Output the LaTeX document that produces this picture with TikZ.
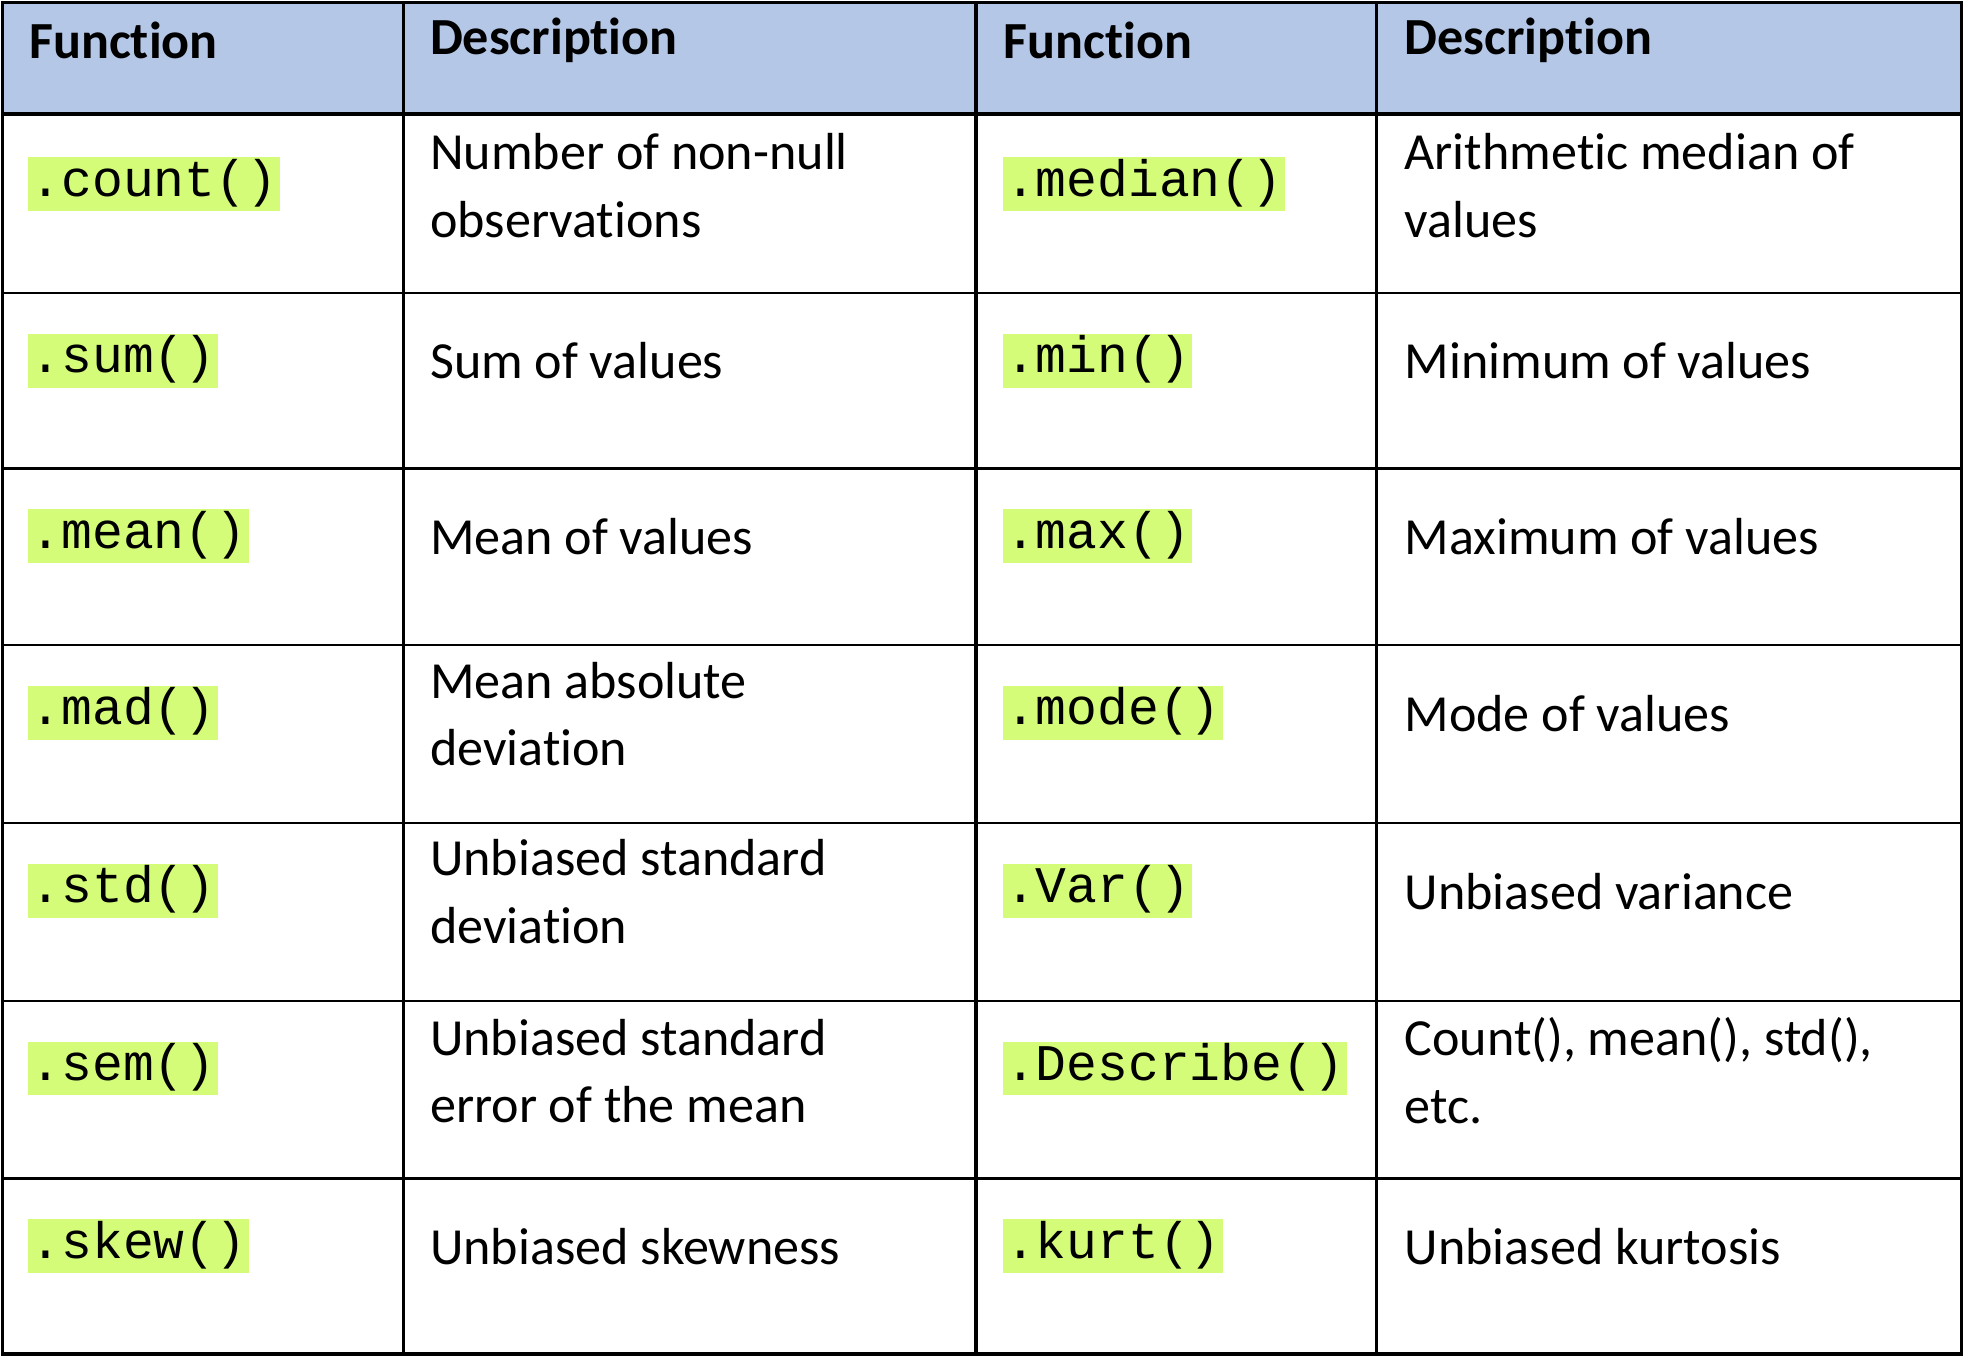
\documentclass[tikz,border=0pt]{standalone}
\usepackage{fontspec}
\setmainfont{Carlito}[Ligatures=NoCommon]
\newfontfamily\codefont{Liberation Mono}
\definecolor{hdr}{HTML}{B4C7E7}
\definecolor{hl}{HTML}{D4FC79}
\begin{document}
\begin{tikzpicture}[x=0.5pt,y=-0.5pt,
  code/.style={anchor=west,fill=hl,inner xsep=1pt,inner ysep=0pt,text height=15.5pt,text depth=6pt,font=\codefont\fontsize{20.5}{24}\selectfont},
  desc/.style={anchor=west,align=left,inner sep=0pt,font=\fontsize{20.8}{27}\selectfont},
  head/.style={anchor=west,inner sep=0pt,font=\bfseries\fontsize{20.8}{22}\selectfont}]
\useasboundingbox (0,0) rectangle (1568,1083);
\fill[hdr] (2,2) rectangle (1566,91);
\foreach \y in {234,374,515,657,799,941} \draw[line width=1pt] (2,\y) -- (1566,\y);
\foreach \x in {322,1099} \draw[line width=1pt] (\x,2) -- (\x,1081);
\draw[line width=1.5pt] (2,91) -- (1566,91);
\draw[line width=1.5pt] (779,2) -- (779,1081);
\draw[line width=1.5pt] (2,2) rectangle (1566,1081);
\node[head] (h1) at (23,32) {Function};
\node[head] (h2) at (343,32) {Description};
\node[head] (h3) at (801,32) {Function};
\node[head] (h4) at (1121,32) {Description};
% left
\node[code] (c1) at (22,147) {.count()};
\node[desc] (d1) at (343,148) {Number of non-null\\observations};
\node[code] (c2) at (22,288) {.sum()};
\node[desc] (d2) at (343,288) {Sum of values};
\node[code] (c3) at (22,428) {.mean()};
\node[desc] (d3) at (343,428) {Mean of values};
\node[code] (c4) at (22,569) {.mad()};
\node[desc] (d4) at (343,570) {Mean absolute\\deviation};
\node[code] (c5) at (22,711) {.std()};
\node[desc] (d5) at (343,712) {Unbiased standard\\deviation};
\node[code] (c6) at (22,853) {.sem()};
\node[desc] (d6) at (343,855) {Unbiased standard\\error of the mean};
\node[code] (c7) at (22,995) {.skew()};
\node[desc] (d7) at (343,995) {Unbiased skewness};
% right
\node[code] (e1) at (800,147) {.median()};
\node[desc] (f1) at (1121,148) {Arithmetic median of\\values};
\node[code] (e2) at (800,288) {.min()};
\node[desc] (f2) at (1121,288) {Minimum of values};
\node[code] (e3) at (800,428) {.max()};
\node[desc] (f3) at (1121,428) {Maximum of values};
\node[code] (e4) at (800,569) {.mode()};
\node[desc] (f4) at (1121,570) {Mode of values};
\node[code] (e5) at (800,711) {.Var()};
\node[desc] (f5) at (1121,712) {Unbiased variance};
\node[code] (e6) at (800,853) {.Describe()};
\node[desc] (f6) at (1121,855) {Count(), mean(), std(),\\etc.};
\node[code] (e7) at (800,995) {.kurt()};
\node[desc] (f7) at (1121,995) {Unbiased kurtosis};
\end{tikzpicture}
\end{document}
